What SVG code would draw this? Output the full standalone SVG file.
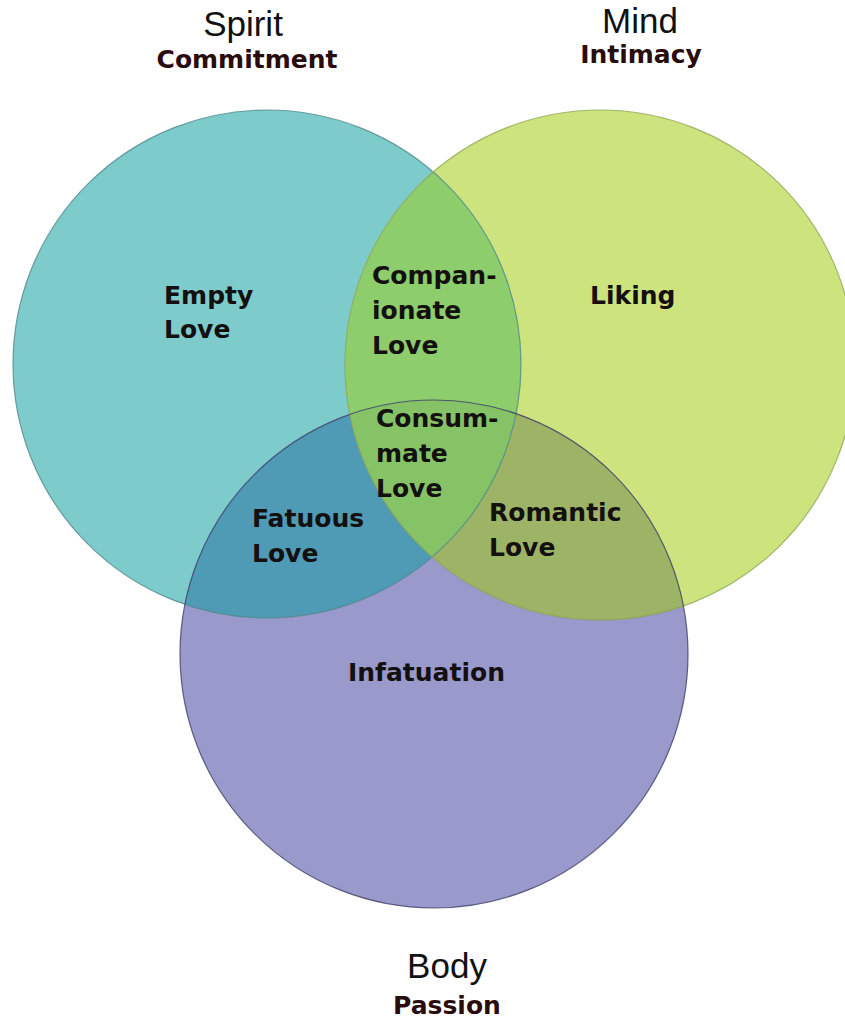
<svg xmlns="http://www.w3.org/2000/svg" width="845" height="1028" viewBox="0 0 845 1028">
  <style>
    .title { font-family: "Liberation Sans", Arial, sans-serif; font-size: 35px; fill: #111; text-anchor: middle; }
    .sub { font-family: "DejaVu Sans", Verdana, sans-serif; font-weight: bold; font-size: 25px; fill: #2a0c0e; text-anchor: middle; }
    .lbl { font-family: "DejaVu Sans", Verdana, sans-serif; font-weight: bold; font-size: 25px; fill: #141010; }
    .edge { fill: none; stroke-width: 1.2; }
  </style>
  <defs>
    <clipPath id="cSpirit"><circle cx="267" cy="364" r="254"/></clipPath>
    <clipPath id="cMind"><circle cx="600" cy="365" r="255"/></clipPath>
    <clipPath id="cBody"><circle cx="434" cy="654" r="254"/></clipPath>
  </defs>
  <rect width="845" height="1028" fill="#ffffff"/>

  <g id="node-spirit">
    <circle cx="267" cy="364" r="254" fill="#7ecbcc"/>
  </g>
  <g id="node-mind">
    <circle cx="600" cy="365" r="255" fill="#cde37d"/>
  </g>
  <g id="node-body">
    <circle cx="434" cy="654" r="254" fill="#9999cb"/>
  </g>

  <g id="overlaps">
    <circle id="companionate-area" cx="600" cy="365" r="255" fill="#8dcd6b" clip-path="url(#cSpirit)"/>
    <circle id="fatuous-area" cx="434" cy="654" r="254" fill="#4f9bb6" clip-path="url(#cSpirit)"/>
    <circle id="romantic-area" cx="434" cy="654" r="254" fill="#9db466" clip-path="url(#cMind)"/>
    <g clip-path="url(#cSpirit)">
      <circle id="consummate-area" cx="434" cy="654" r="254" fill="#86c366" clip-path="url(#cMind)"/>
    </g>
  </g>

  <g id="outlines">
    <circle class="edge" cx="267" cy="364" r="254" stroke="#4f8a8d" stroke-opacity="0.8"/>
    <circle class="edge" cx="600" cy="365" r="255" stroke="#8ea653" stroke-opacity="0.8"/>
    <circle class="edge" cx="434" cy="654" r="254" stroke="#3d3f66" stroke-opacity="0.8"/>
  </g>

  <g id="connectors"></g>

  <g id="title-spirit">
    <text class="title" x="243" y="36">Spirit</text>
    <text class="sub" x="247" y="68">Commitment</text>
  </g>
  <g id="title-mind">
    <text class="title" x="640" y="33">Mind</text>
    <text class="sub" x="641" y="63">Intimacy</text>
  </g>
  <g id="title-body">
    <text class="title" x="447" y="978">Body</text>
    <text class="sub" x="447" y="1014">Passion</text>
  </g>

  <g id="label-empty">
    <text class="lbl" x="164" y="304">Empty</text>
    <text class="lbl" x="164" y="338">Love</text>
  </g>
  <g id="label-companionate">
    <text class="lbl" x="372" y="284">Compan-</text>
    <text class="lbl" x="372" y="319">ionate</text>
    <text class="lbl" x="372" y="354">Love</text>
  </g>
  <g id="label-liking">
    <text class="lbl" x="590" y="304">Liking</text>
  </g>
  <g id="label-consummate">
    <text class="lbl" x="376" y="427">Consum-</text>
    <text class="lbl" x="376" y="462">mate</text>
    <text class="lbl" x="376" y="497">Love</text>
  </g>
  <g id="label-fatuous">
    <text class="lbl" x="252" y="527">Fatuous</text>
    <text class="lbl" x="252" y="562">Love</text>
  </g>
  <g id="label-romantic">
    <text class="lbl" x="489" y="521">Romantic</text>
    <text class="lbl" x="489" y="556">Love</text>
  </g>
  <g id="label-infatuation">
    <text class="lbl" x="348" y="681">Infatuation</text>
  </g>
</svg>
